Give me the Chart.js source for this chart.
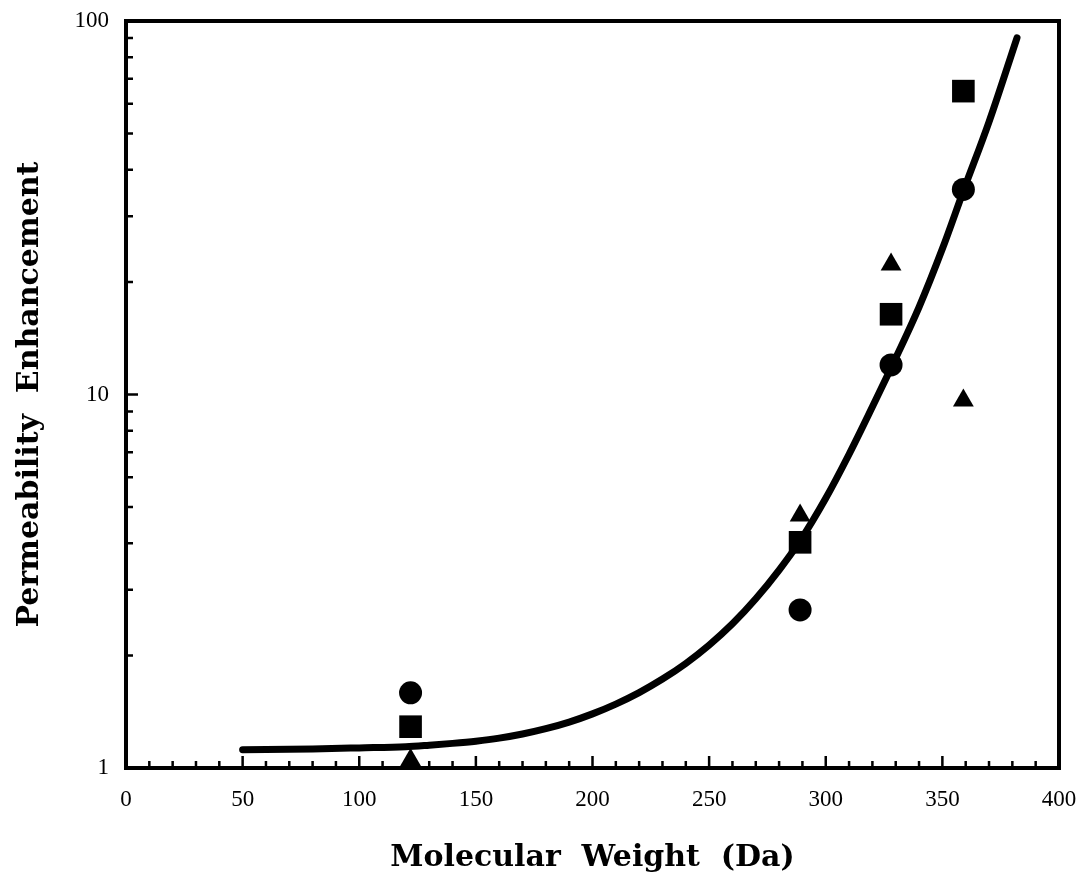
<!DOCTYPE html>
<html>
<head>
<meta charset="utf-8">
<script src="https://cdn.jsdelivr.net/npm/chart.js@4/dist/chart.umd.min.js"></script>
<style>
  html, body { margin: 0; padding: 0; background: #ffffff; }
  #wrap { width: 1080px; height: 879px; }
</style>
</head>
<body>
<div id="wrap"><canvas id="chart" width="1080" height="879"></canvas></div>
<script>
// Measured compounds: molecular weight (Da) and enhancement for three series
const molecularWeights = [122, 289, 328, 359];
const circleValues   = [1.59, 2.65, 12.0, 35.4];
const squareValues   = [1.29, 4.02, 16.4, 64.9];
const triangleValues = [1.05, 4.74, 22.3, 9.63];

// Fitted trend curve
const fitWeights = [50, 80, 100, 120, 130, 140, 150, 160, 170, 180, 190, 200, 210, 220, 230, 240,
                    250, 260, 270, 280, 289, 300, 310, 320, 328, 340, 350, 359, 370, 382];
const fitValues  = [1.119, 1.125, 1.132, 1.140, 1.151, 1.164, 1.180, 1.202, 1.233, 1.274, 1.327,
                    1.396, 1.483, 1.592, 1.730, 1.905, 2.133, 2.432, 2.838, 3.388, 4.055, 5.272,
                    6.918, 9.268, 11.78, 17.14, 24.55, 35.08, 53.70, 90.16];

// Axis ticks
const xTickLabels = [0, 50, 100, 150, 200, 250, 300, 350, 400];
const xMinorTicks = [10, 20, 30, 40, 60, 70, 80, 90, 110, 120, 130, 140, 160, 170, 180, 190,
                     210, 220, 230, 240, 260, 270, 280, 290, 310, 320, 330, 340, 360, 370, 380, 390];
const yTickLabels = [1, 10, 100];
const yMinorTicks = [2, 3, 4, 5, 6, 7, 8, 9, 20, 30, 40, 50, 60, 70, 80, 90];

const INK = '#000000';

function pairs(xs, ys) {
  return xs.map((x, i) => ({ x: x, y: ys[i] }));
}

// Keep the plot area fixed: no extra room reserved for overhanging labels
function fixPadding(scale) {
  scale.paddingLeft = 0;
  scale.paddingRight = 0;
  scale.paddingTop = 0;
  scale.paddingBottom = 0;
}

// Frame around the plot and inward-pointing tick marks
const frameAndTicks = {
  id: 'frameAndTicks',
  beforeDatasetsDraw(chart) {
    const { ctx, chartArea: a, scales } = chart;
    const xs = scales.x, ys = scales.y;
    ctx.save();
    ctx.strokeStyle = INK;
    ctx.lineCap = 'butt';

    // x ticks along the bottom edge, pointing up
    ctx.lineWidth = 2.5;
    ctx.beginPath();
    xTickLabels.forEach(v => {
      const px = xs.getPixelForValue(v);
      ctx.moveTo(px, a.bottom);
      ctx.lineTo(px, a.bottom - 12);
    });
    xMinorTicks.forEach(v => {
      const px = xs.getPixelForValue(v);
      ctx.moveTo(px, a.bottom);
      ctx.lineTo(px, a.bottom - 7);
    });
    ctx.stroke();

    // y ticks along the left edge, pointing right
    ctx.beginPath();
    yTickLabels.forEach(v => {
      const py = ys.getPixelForValue(v);
      ctx.moveTo(a.left, py);
      ctx.lineTo(a.left + 12, py);
    });
    yMinorTicks.forEach(v => {
      const py = ys.getPixelForValue(v);
      ctx.moveTo(a.left, py);
      ctx.lineTo(a.left + 7, py);
    });
    ctx.stroke();

    // plot frame
    ctx.lineWidth = 4;
    ctx.strokeRect(a.left, a.top, a.right - a.left, a.bottom - a.top);
    ctx.restore();
  }
};

const titleFont = { family: "'DejaVu Serif', serif", size: 30, weight: 'bold', lineHeight: 1.2 };
const tickFont  = { family: "'Liberation Serif', serif", size: 23 };

new Chart(document.getElementById('chart'), {
  type: 'scatter',
  data: {
    datasets: [
      {
        type: 'line',
        label: 'fit',
        data: pairs(fitWeights, fitValues),
        borderColor: INK,
        borderWidth: 7,
        pointRadius: 0,
        fill: false,
        cubicInterpolationMode: 'monotone',
        borderCapStyle: 'round',
        order: 2
      },
      {
        label: 'circles',
        data: pairs(molecularWeights, circleValues),
        pointStyle: 'circle',
        pointRadius: 11.5,
        backgroundColor: INK,
        borderColor: INK,
        borderWidth: 0,
        order: 1
      },
      {
        label: 'squares',
        data: pairs(molecularWeights, squareValues),
        pointStyle: 'rect',
        pointRadius: 16,
        backgroundColor: INK,
        borderColor: INK,
        borderWidth: 0,
        order: 1
      },
      {
        label: 'triangles',
        data: pairs(molecularWeights, triangleValues),
        pointStyle: 'triangle',
        pointRadius: 12,
        backgroundColor: INK,
        borderColor: INK,
        borderWidth: 0,
        order: 1
      }
    ]
  },
  options: {
    responsive: false,
    animation: false,
    devicePixelRatio: 1,
    layout: { padding: { left: 0, top: 21, right: 21, bottom: 0 } },
    plugins: {
      legend: { display: false },
      tooltip: { enabled: false }
    },
    scales: {
      x: {
        type: 'linear',
        position: 'bottom',
        min: 0,
        max: 400,
        afterBuildTicks(scale) { scale.ticks = xTickLabels.map(v => ({ value: v })); },
        afterFit(scale) { scale.height = 111; fixPadding(scale); },
        grid: { display: false, drawTicks: false },
        border: { display: false },
        ticks: {
          color: INK,
          font: tickFont,
          padding: 18,
          maxRotation: 0,
          autoSkip: false,
          callback: v => String(v)
        },
        title: {
          display: true,
          text: 'Molecular  Weight  (Da)',
          color: INK,
          font: titleFont,
          padding: { top: 0, bottom: 3 }
        }
      },
      y: {
        type: 'logarithmic',
        position: 'left',
        min: 1,
        max: 100,
        afterBuildTicks(scale) { scale.ticks = yTickLabels.map(v => ({ value: v })); },
        afterFit(scale) { scale.width = 126; fixPadding(scale); },
        grid: { display: false, drawTicks: false },
        border: { display: false },
        ticks: {
          color: INK,
          font: tickFont,
          padding: 17,
          autoSkip: false,
          callback: v => String(v)
        },
        title: {
          display: true,
          text: 'Permeability  Enhancement',
          color: INK,
          font: titleFont,
          padding: { top: 12, bottom: 0 }
        }
      }
    }
  },
  plugins: [frameAndTicks]
});
</script>
</body>
</html>
